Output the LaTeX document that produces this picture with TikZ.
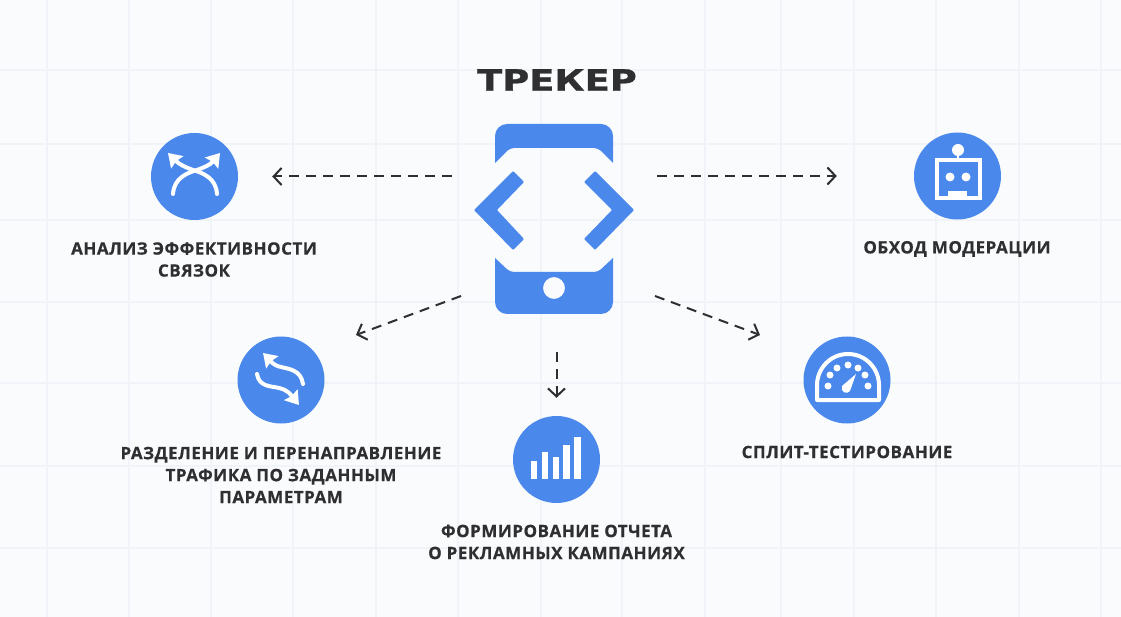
\documentclass[tikz,border=0pt]{standalone}
\usepackage{fontspec}
\setmainfont{Open Sans}[LetterSpace=3, BoldFeatures={FakeBold=0.5}]
\newfontfamily\titlefont{DejaVu Sans Bold}[FakeStretch=1.25, FakeBold=1]
\usetikzlibrary{arrows.meta}
\definecolor{trackblue}{HTML}{4A88EC}
\definecolor{pagebg}{HTML}{F9FBFD}
\definecolor{gridline}{HTML}{F0F3F7}
\definecolor{inkdark}{HTML}{2F2F31}
\tikzset{
    stage/.style={circle, fill=trackblue, minimum size=87pt, inner sep=0pt},
    caption/.style={text=inkdark, align=center, inner sep=0pt, font=\fontsize{17}{22}\selectfont\bfseries},
    flow/.style={draw=inkdark, line width=2pt, dash pattern=on 10pt off 7pt, -{Straight Barb[length=8pt, width=17pt, line width=2pt]}},
    glyph/.style={draw=white, line width=4pt, line cap=round},
    tipglyph/.style={glyph, -{Stealth[length=13pt, width=17pt, inset=1.5pt]}}
}
\begin{document}
\begin{tikzpicture}[x=1pt, y=-1pt]
    \useasboundingbox[fill=pagebg] (0,0) rectangle (1121,617);
    \foreach \gx in {47,129,211,293,376,458,541,622,705,781,854,936,1019,1101}
        \draw[gridline, line width=1.8pt] (\gx,0) -- (\gx,617);
    \foreach \gy in {70,144,220,302,383,466,548}
        \draw[gridline, line width=1.8pt] (0,\gy) -- (1121,\gy);

    \node[text=inkdark, inner sep=0pt, font=\fontsize{29.5}{32}\titlefont] (title) at (557,80) {ТРЕКЕР};

    % phone
    \node[minimum width=160pt, minimum height=190pt, inner sep=0pt] (phone) at (554,219) {};
    \fill[trackblue] (495,163) [rounded corners=12pt] -- (495,124) -- (613,124) [sharp corners] -- (613,163) [rounded corners=4pt] -- (598,148) -- (510,148) [sharp corners] -- cycle;
    \fill[trackblue, even odd rule] (495,258) [rounded corners=4pt] -- (510,272) -- (598,272) [sharp corners] -- (613,258) [rounded corners=12pt] -- (613,314) -- (495,314) [sharp corners] -- cycle (554,288) circle (11);
    \fill[trackblue, rounded corners=1pt] (474,210) -- (513,171) -- (524,182) -- (497,210) -- (524,239) -- (513,250) -- cycle;
    \fill[trackblue, rounded corners=1pt] (634,210) -- (595,171) -- (584,182) -- (612,210) -- (584,239) -- (595,250) -- cycle;

    \node[stage] (analiz) at (194.5,176.5) {};
    \node[stage] (traffic) at (281,380) {};
    \node[stage] (report) at (556.5,459.5) {};
    \node[stage] (split) at (847,380) {};
    \node[stage] (robot) at (957.5,176) {};

    % icons
    \draw[tipglyph] (173,194) .. controls (174,178) and (187,173) .. (197,170) .. controls (205,167) and (210,165) .. (220,153);
    \draw[tipglyph] (217,194) .. controls (216,178) and (203,173) .. (193,170) .. controls (185,167) and (180,165) .. (168,153);

    \draw[tipglyph] (303,384) .. controls (301,370) and (289,369) .. (281,367) .. controls (272,365) and (270,360) .. (263,353);
    \draw[tipglyph] (257,374) .. controls (259,387) and (271,386) .. (279,388) .. controls (288,390) and (291,395) .. (299,405);

    \foreach \bx/\by in {534/461,545/452,556/457,566.5/445,577.5/437}
        \fill[white] (\bx-3.2,\by) rectangle (\bx+3.2,479);

    \draw[white, line width=4pt, line join=round] (817,400) -- (817,385) .. controls (817,369) and (830,354) .. (848,354) .. controls (866,354) and (879,369) .. (879,385) -- (879,400) -- cycle;
    \foreach \dx/\dy in {828/386,830/375,837/368,848/365,858/368,865/375,868/386}
        \fill[white] (\dx,\dy) circle (3.5);
    \fill[white] (856,374) -- (850,391) .. controls (847,395) and (840,392) .. (842,386) -- cycle;

    \draw[white, line width=4pt] (937,160) rectangle (980,198);
    \draw[white, line width=2.5pt] (958,150) -- (958,158);
    \fill[white] (958,150) circle (6);
    \fill[white] (950,177) circle (4.5) (966,177) circle (4.5);
    \fill[white] (948,191) rectangle (967,199);

    % labels
    \node[caption] (analizText) at (194,259.5) {АНАЛИЗ ЭФФЕКТИВНОСТИ\\СВЯЗОК};
    \node[caption] (trafficText) at (281,475) {РАЗДЕЛЕНИЕ И ПЕРЕНАПРАВЛЕНИЕ\\ТРАФИКА ПО ЗАДАННЫМ\\ПАРАМЕТРАМ};
    \node[caption] (reportText) at (556.5,542) {ФОРМИРОВАНИЕ ОТЧЕТА\\О РЕКЛАМНЫХ КАМПАНИЯХ};
    \node[caption] (splitText) at (847,452) {СПЛИТ-ТЕСТИРОВАНИЕ};
    \node[caption] (robotText) at (957,249) {ОБХОД МОДЕРАЦИИ};

    % connectors
    \coordinate (leftStart) at (461,296);
    \coordinate (leftEnd) at (356,335);
    \coordinate (rightStart) at (655,296);
    \coordinate (rightEnd) at (760,335);
    \draw[flow, shorten <=22pt, shorten >=34pt] (phone.west |- analiz) -- (analiz.east);
    \draw[flow, shorten <=23pt, shorten >=77pt] (phone.east |- robot) -- (robot.west);
    \draw[flow] (leftStart) -- (leftEnd);
    \draw[flow] (rightStart) -- (rightEnd);
    \draw[flow, shorten <=38pt, shorten >=18pt] (phone.south -| report) -- (report.north);
\end{tikzpicture}
\end{document}
